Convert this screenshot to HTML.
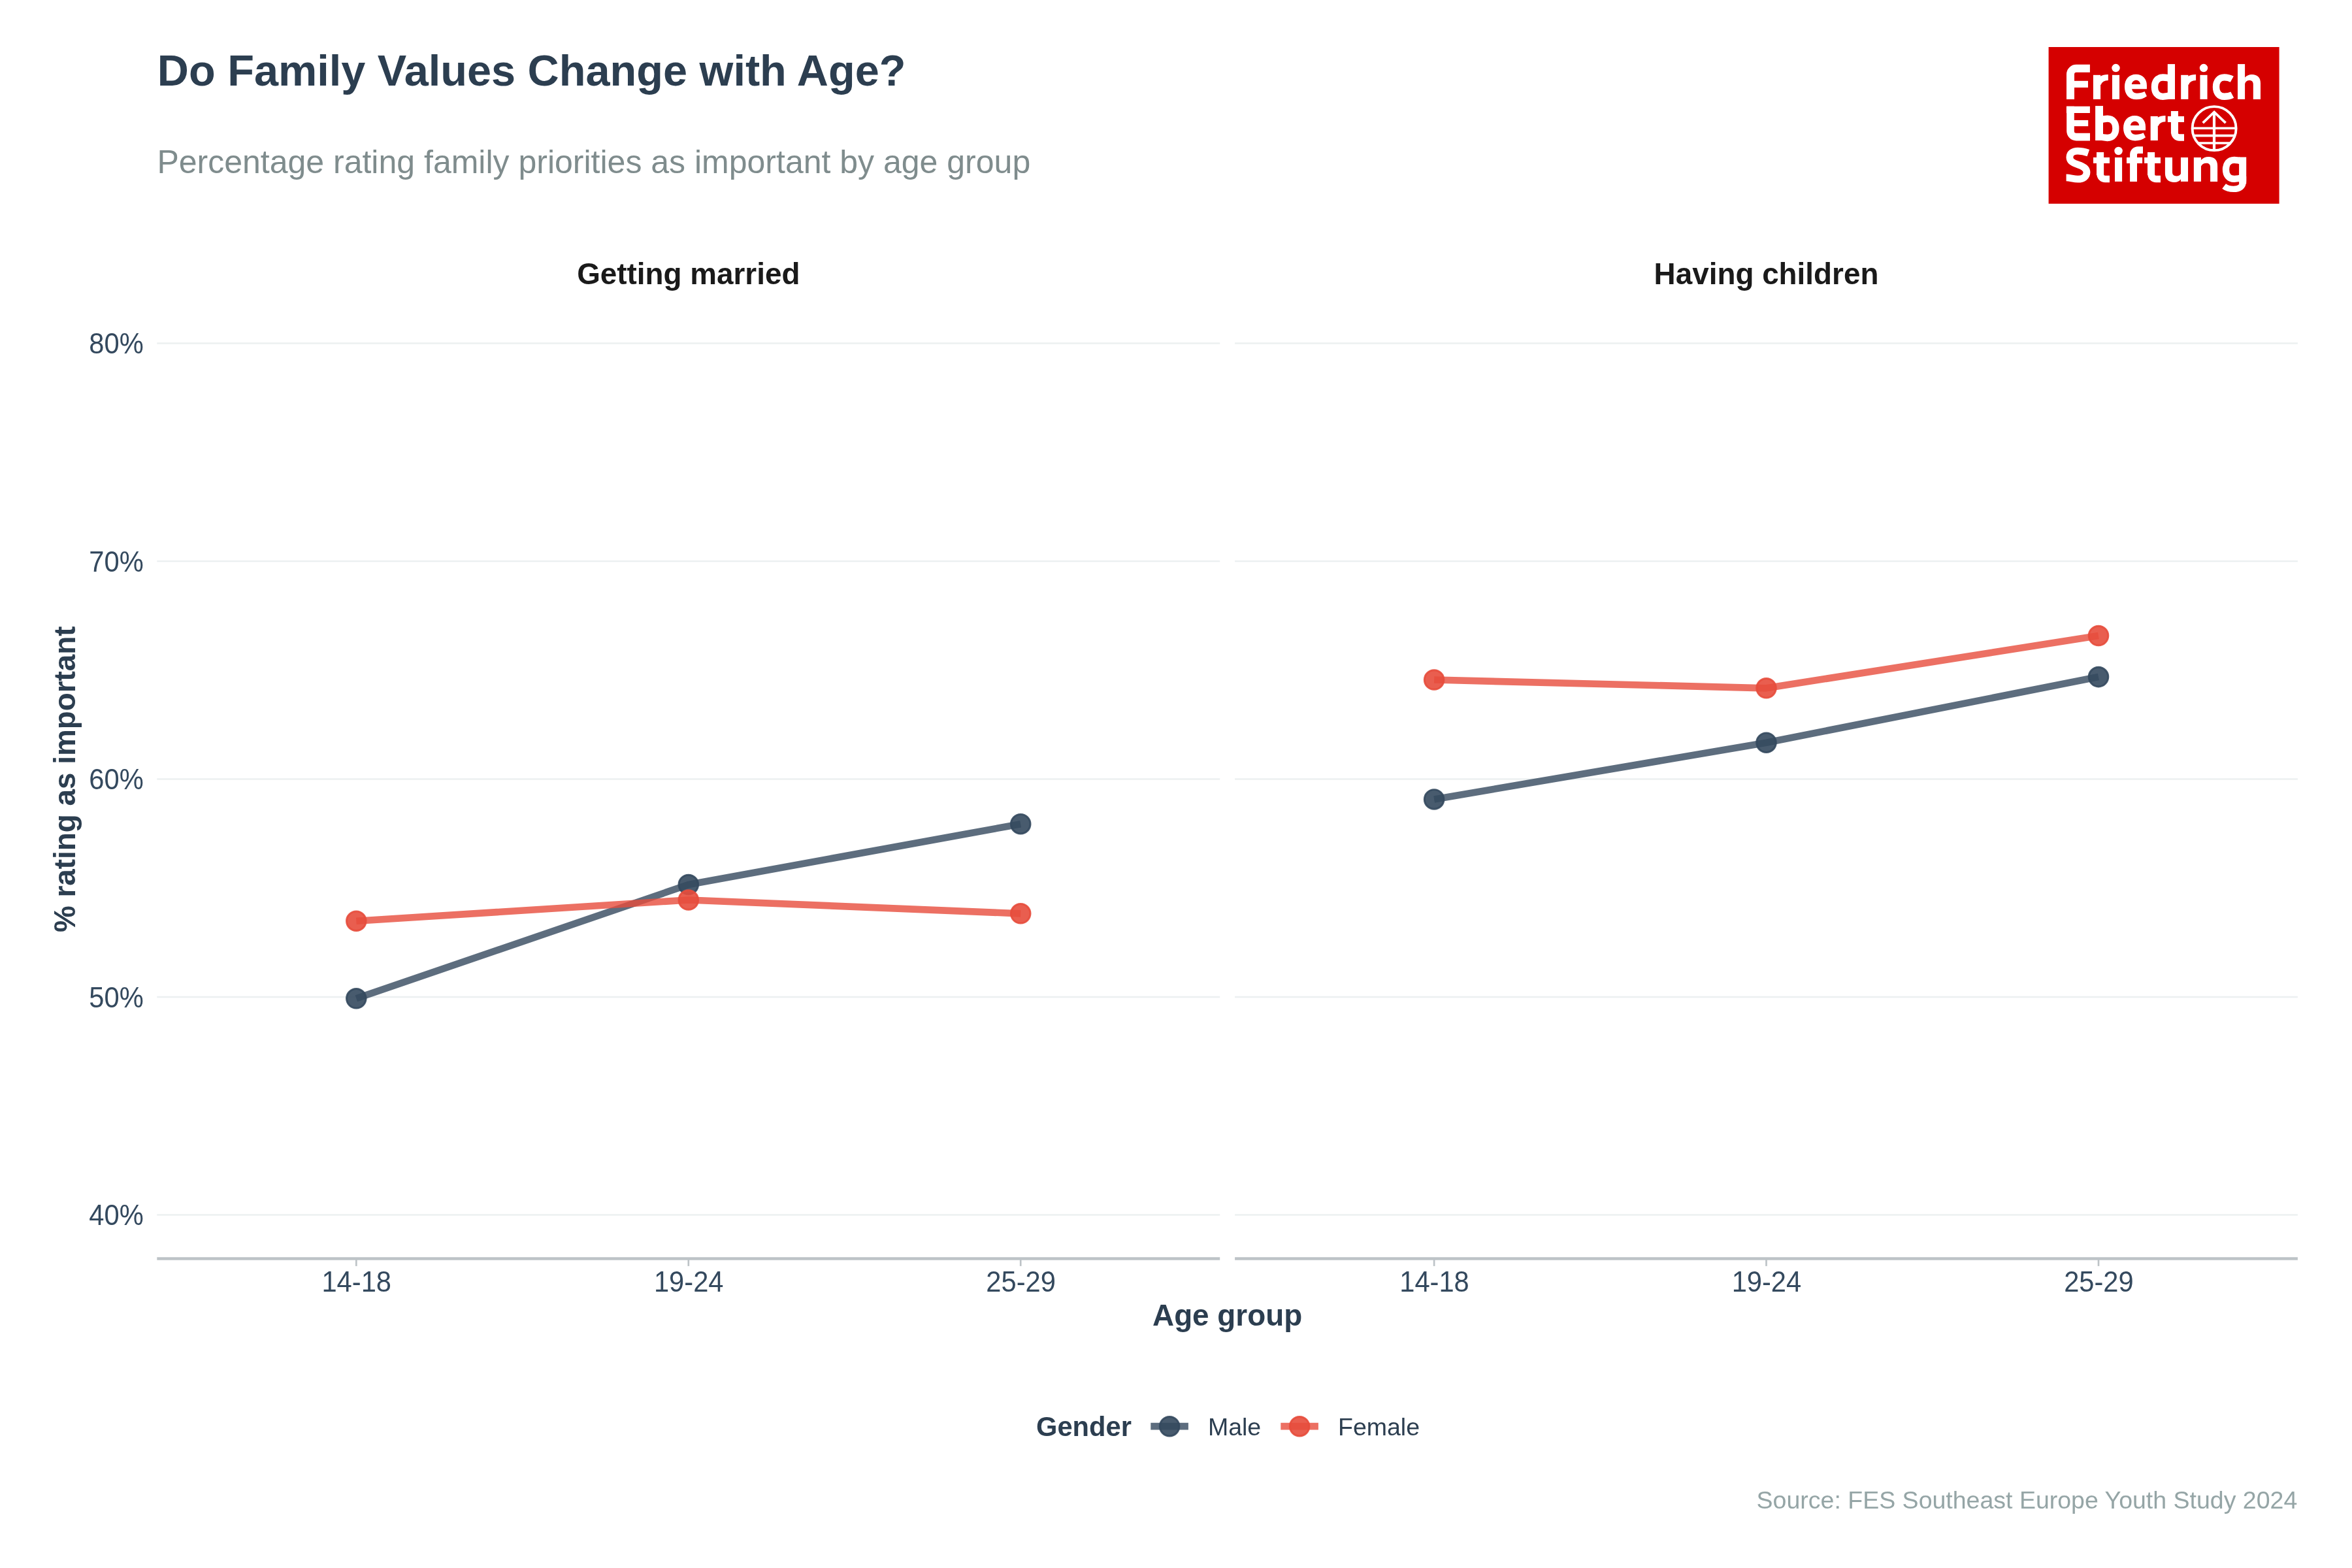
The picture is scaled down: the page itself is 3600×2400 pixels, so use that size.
<!DOCTYPE html>
<html><head><meta charset="utf-8"><title>Do Family Values Change with Age?</title>
<style>
html,body{margin:0;padding:0;background:#fff;}
body{width:3600px;height:2400px;overflow:hidden;}
svg{display:block;position:absolute;left:0;top:0;will-change:transform;}
text{font-family:"Liberation Sans",sans-serif;}
.b{font-weight:700;}
.ax{font-size:41.67px;fill:#34495e;}
</style></head><body>
<svg width="3600" height="2400" viewBox="0 0 3600 2400">
<rect width="3600" height="2400" fill="#ffffff"/>
<text x="240.8" y="130.7" class="b" font-size="66.67" fill="#2c3e50">Do Family Values Change with Age?</text>
<text x="240.4" y="264.8" font-size="50" fill="#7f8c8d">Percentage rating family priorities as important by age group</text>
<text x="1053.8" y="434.8" class="b" font-size="45.83" fill="#1a1a1a" text-anchor="middle">Getting married</text>
<text x="2703.5" y="434.8" class="b" font-size="45.83" fill="#1a1a1a" text-anchor="middle">Having children</text>
<line x1="240.3" x2="1867.2" y1="525.5" y2="525.5" stroke="#ecf0f1" stroke-width="2.67"/>
<line x1="1890.1" x2="3516.9" y1="525.5" y2="525.5" stroke="#ecf0f1" stroke-width="2.67"/>
<text transform="translate(219.7 541.2) scale(1 1.06)" class="ax" text-anchor="end">80%</text>
<line x1="240.3" x2="1867.2" y1="859.0" y2="859.0" stroke="#ecf0f1" stroke-width="2.67"/>
<line x1="1890.1" x2="3516.9" y1="859.0" y2="859.0" stroke="#ecf0f1" stroke-width="2.67"/>
<text transform="translate(219.7 874.7) scale(1 1.06)" class="ax" text-anchor="end">70%</text>
<line x1="240.3" x2="1867.2" y1="1192.5" y2="1192.5" stroke="#ecf0f1" stroke-width="2.67"/>
<line x1="1890.1" x2="3516.9" y1="1192.5" y2="1192.5" stroke="#ecf0f1" stroke-width="2.67"/>
<text transform="translate(219.7 1208.2) scale(1 1.06)" class="ax" text-anchor="end">60%</text>
<line x1="240.3" x2="1867.2" y1="1526.0" y2="1526.0" stroke="#ecf0f1" stroke-width="2.67"/>
<line x1="1890.1" x2="3516.9" y1="1526.0" y2="1526.0" stroke="#ecf0f1" stroke-width="2.67"/>
<text transform="translate(219.7 1541.7) scale(1 1.06)" class="ax" text-anchor="end">50%</text>
<line x1="240.3" x2="1867.2" y1="1859.5" y2="1859.5" stroke="#ecf0f1" stroke-width="2.67"/>
<line x1="1890.1" x2="3516.9" y1="1859.5" y2="1859.5" stroke="#ecf0f1" stroke-width="2.67"/>
<text transform="translate(219.7 1875.2) scale(1 1.06)" class="ax" text-anchor="end">40%</text>
<polyline points="545.3,1528.3 1053.8,1354.0 1562.2,1261.2" fill="none" stroke="#34495e" stroke-opacity="0.8" stroke-width="10.67" stroke-linejoin="round" stroke-linecap="butt"/>
<polyline points="545.3,1409.7 1053.8,1377.5 1562.2,1398.3" fill="none" stroke="#e74c3c" stroke-opacity="0.8" stroke-width="10.67" stroke-linejoin="round" stroke-linecap="butt"/>
<polyline points="2195.1,1223.4 2703.5,1136.7 3212.0,1036.1" fill="none" stroke="#34495e" stroke-opacity="0.8" stroke-width="10.67" stroke-linejoin="round" stroke-linecap="butt"/>
<polyline points="2195.1,1040.5 2703.5,1053.3 3212.0,973.0" fill="none" stroke="#e74c3c" stroke-opacity="0.8" stroke-width="10.67" stroke-linejoin="round" stroke-linecap="butt"/>
<circle cx="545.3" cy="1528.3" r="14.8" fill="#34495e" fill-opacity="0.9" stroke="#34495e" stroke-opacity="0.9" stroke-width="2.95"/><circle cx="1053.8" cy="1354.0" r="14.8" fill="#34495e" fill-opacity="0.9" stroke="#34495e" stroke-opacity="0.9" stroke-width="2.95"/><circle cx="1562.2" cy="1261.2" r="14.8" fill="#34495e" fill-opacity="0.9" stroke="#34495e" stroke-opacity="0.9" stroke-width="2.95"/>
<circle cx="545.3" cy="1409.7" r="14.8" fill="#e74c3c" fill-opacity="0.9" stroke="#e74c3c" stroke-opacity="0.9" stroke-width="2.95"/><circle cx="1053.8" cy="1377.5" r="14.8" fill="#e74c3c" fill-opacity="0.9" stroke="#e74c3c" stroke-opacity="0.9" stroke-width="2.95"/><circle cx="1562.2" cy="1398.3" r="14.8" fill="#e74c3c" fill-opacity="0.9" stroke="#e74c3c" stroke-opacity="0.9" stroke-width="2.95"/>
<circle cx="2195.1" cy="1223.4" r="14.8" fill="#34495e" fill-opacity="0.9" stroke="#34495e" stroke-opacity="0.9" stroke-width="2.95"/><circle cx="2703.5" cy="1136.7" r="14.8" fill="#34495e" fill-opacity="0.9" stroke="#34495e" stroke-opacity="0.9" stroke-width="2.95"/><circle cx="3212.0" cy="1036.1" r="14.8" fill="#34495e" fill-opacity="0.9" stroke="#34495e" stroke-opacity="0.9" stroke-width="2.95"/>
<circle cx="2195.1" cy="1040.5" r="14.8" fill="#e74c3c" fill-opacity="0.9" stroke="#e74c3c" stroke-opacity="0.9" stroke-width="2.95"/><circle cx="2703.5" cy="1053.3" r="14.8" fill="#e74c3c" fill-opacity="0.9" stroke="#e74c3c" stroke-opacity="0.9" stroke-width="2.95"/><circle cx="3212.0" cy="973.0" r="14.8" fill="#e74c3c" fill-opacity="0.9" stroke="#e74c3c" stroke-opacity="0.9" stroke-width="2.95"/>
<line x1="545.3" x2="545.3" y1="1926.5" y2="1937.9" stroke="#bdc3c7" stroke-width="2.67"/>
<text transform="translate(545.7 1977.3) scale(1 1.06)" class="ax" text-anchor="middle">14-18</text>
<line x1="1053.8" x2="1053.8" y1="1926.5" y2="1937.9" stroke="#bdc3c7" stroke-width="2.67"/>
<text transform="translate(1054.2 1977.3) scale(1 1.06)" class="ax" text-anchor="middle">19-24</text>
<line x1="1562.2" x2="1562.2" y1="1926.5" y2="1937.9" stroke="#bdc3c7" stroke-width="2.67"/>
<text transform="translate(1562.6 1977.3) scale(1 1.06)" class="ax" text-anchor="middle">25-29</text>
<line x1="240.3" x2="1867.2" y1="1926.5" y2="1926.5" stroke="#bdc3c7" stroke-width="4.44"/>
<line x1="2195.1" x2="2195.1" y1="1926.5" y2="1937.9" stroke="#bdc3c7" stroke-width="2.67"/>
<text transform="translate(2195.5 1977.3) scale(1 1.06)" class="ax" text-anchor="middle">14-18</text>
<line x1="2703.5" x2="2703.5" y1="1926.5" y2="1937.9" stroke="#bdc3c7" stroke-width="2.67"/>
<text transform="translate(2703.9 1977.3) scale(1 1.06)" class="ax" text-anchor="middle">19-24</text>
<line x1="3212.0" x2="3212.0" y1="1926.5" y2="1937.9" stroke="#bdc3c7" stroke-width="2.67"/>
<text transform="translate(3212.4 1977.3) scale(1 1.06)" class="ax" text-anchor="middle">25-29</text>
<line x1="1890.1" x2="3516.9" y1="1926.5" y2="1926.5" stroke="#bdc3c7" stroke-width="4.44"/>
<text x="1878.6" y="2028.7" class="b" font-size="45.83" fill="#2c3e50" text-anchor="middle">Age group</text>
<text transform="translate(115.0 1192.7) rotate(-90)" class="b" font-size="45.83" fill="#2c3e50" text-anchor="middle">% rating as important</text>
<text x="1586" y="2198" class="b" font-size="41.67" fill="#2c3e50">Gender</text>
<line x1="1761.3" x2="1818.8999999999999" y1="2183.2" y2="2183.2" stroke="#34495e" stroke-opacity="0.8" stroke-width="10.67"/>
<circle cx="1790.1" cy="2183.2" r="14.8" fill="#34495e" fill-opacity="0.9" stroke="#34495e" stroke-opacity="0.9" stroke-width="2.95"/>
<text x="1848.9" y="2197.2" font-size="37.5" fill="#2c3e50">Male</text>
<line x1="1960.3" x2="2017.8999999999999" y1="2183.2" y2="2183.2" stroke="#e74c3c" stroke-opacity="0.8" stroke-width="10.67"/>
<circle cx="1989.1" cy="2183.2" r="14.8" fill="#e74c3c" fill-opacity="0.9" stroke="#e74c3c" stroke-opacity="0.9" stroke-width="2.95"/>
<text x="2048.0" y="2197.2" font-size="37.5" fill="#2c3e50">Female</text>
<text x="3516.3" y="2308.8" font-size="37.5" fill="#95a5a6" text-anchor="end">Source: FES Southeast Europe Youth Study 2024</text>
<rect x="3135.6" y="72" width="353" height="239.8" fill="#d50000"/>
<g fill="none" stroke="#ffffff" stroke-linecap="butt" stroke-linejoin="round">
<path d="M3169,151.9V113.75A9,9 0 0 1 3178,104.75H3198.9" stroke-width="12" />
<path d="M3169,128.9H3196" stroke-width="10.2" />
<path d="M3209.5,114.8V151.9" stroke-width="11.2"/>
<path d="M3211.5,128.3C3213.5,122.1 3218.5,118.5 3226.8,118.5" stroke-width="9.2" />
<path d="M3238.5,114.8V151.9" stroke-width="11.1"/>
<circle cx="3238.5" cy="104.1" r="6.25" fill="#fff" stroke="none"/>
<path d="M3285.95,147.14C3281.50,150.60 3276.00,152.30 3269.97,152.30C3258.60,152.30 3251.94,144.20 3251.94,132.90C3251.94,121.60 3258.60,113.80 3269.30,113.80C3279.60,113.80 3285.95,120.60 3285.95,130.80V136.30H3263.16C3263.90,140.60 3266.60,142.70 3270.70,142.70C3274.90,142.70 3279.00,141.70 3282.55,140.00ZM3262.82,128.91C3263.50,125.00 3266.00,122.65 3269.63,122.65C3273.20,122.65 3275.60,125.00 3276.09,128.91Z" fill="#fff" stroke="none" fill-rule="evenodd"/>
<path d="M3323.4,98.1V151.9" stroke-width="11.2"/>
<path d="M3324,121.4C3319.5,119.3 3315,118.5 3310.5,118.5C3302,118.5 3297.9,125 3297.9,133.2C3297.9,141.6 3302,147.8 3310.5,147.8C3315,147.8 3319.5,147 3324,145" stroke-width="10.3" />
<path d="M3343.8,114.8V151.9" stroke-width="11.2"/>
<path d="M3345.8,128.3C3347.8,122.1 3352.8,118.5 3361.1000000000004,118.5" stroke-width="9.2" />
<path d="M3373.0,114.8V151.9" stroke-width="11.1"/>
<circle cx="3373.0" cy="104.1" r="6.25" fill="#fff" stroke="none"/>
<path d="M3416.3,121.3C3412.5,119.2 3408.5,118.4 3404.6,118.4C3396.2,118.4 3392,124.8 3392,133.1C3392,141.6 3396.2,147.8 3404.6,147.8C3408.8,147.8 3413.2,147 3416.8,145.1" stroke-width="10.4" />
<path d="M3430.55,98.1V151.9" stroke-width="11.1"/>
<path d="M3436.1,118.6C3439,115.6 3442.6,114.1 3446.8,114.1C3455.2,114.1 3460,119 3460,127.2V151.9H3448.8V129C3448.8,125 3446.6,123 3442.9,123C3439.6,123 3437.1,124.9 3436.1,128.2Z" fill="#fff" stroke="none" fill-rule="evenodd"/>
<path d="M3162.9,167.9H3198.9" stroke-width="10.2" />
<path d="M3169,162.8V200.6A9,9 0 0 0 3178,209.6H3199" stroke-width="11.6" />
<path d="M3169,188.55H3196.2" stroke-width="9.3" />
<path d="M3213.05,162.1V215.0" stroke-width="11.9"/>
<path d="M3212.5,184.6C3217,182.5 3221,181.6 3225.6,181.6C3234.2,181.6 3238.4,188 3238.4,196.4C3238.4,204.8 3234.2,211 3225.6,211C3221,211 3217,210.2 3212.5,208.2" stroke-width="10.3" />
<path d="M3284.05,210.34C3279.60,213.80 3274.10,215.50 3268.07,215.50C3256.70,215.50 3250.04,207.40 3250.04,196.10C3250.04,184.80 3256.70,177.00 3267.40,177.00C3277.70,177.00 3284.05,183.80 3284.05,194.00V199.50H3261.26C3262.00,203.80 3264.70,205.90 3268.80,205.90C3273.00,205.90 3277.10,204.90 3280.65,203.20ZM3260.92,192.11C3261.60,188.20 3264.10,185.85 3267.73,185.85C3271.30,185.85 3273.70,188.20 3274.19,192.11Z" fill="#fff" stroke="none" fill-rule="evenodd"/>
<path d="M3297.25,177.9V215.0" stroke-width="11.2"/>
<path d="M3299.25,191.4C3301.25,185.20000000000002 3306.25,181.6 3314.55,181.6" stroke-width="9.2" />
<path d="M3328.45,170.05V203.0A7.5,7.5 0 0 0 3335.95,210.5H3343.0" stroke-width="10.5" />
<path d="M3328.45,170.05V204.5" stroke-width="11.1"/>
<path d="M3317.9,182.45H3343.0" stroke-width="9.0" />
<g stroke-width="3.8">
<circle cx="3389.1" cy="196.6" r="33.5" stroke-width="3.9"/>
<path d="M3389,171V230" stroke-width="4.2"/>
<path d="M3371.7,188.1L3389.1,171.5L3406.6,188.1" stroke-linejoin="miter"/>
<path d="M3355.6,196.3H3422.6" stroke-width="3.6"/>
<path d="M3357.5,207.6H3420.7" stroke-width="3.6"/>
<path d="M3364.2,219.0H3414.0" stroke-width="3.6"/>
</g>
<path d="M3196.4,234.2C3190.6,232.2 3185.6,231.2 3180.3,231.2C3172.3,231.2 3167.9,235 3167.9,240.7C3167.9,247.0 3173.2,249.5 3181,252.1C3189.2,254.9 3194,257.8 3194,263.8C3194,270.2 3188.8,274.2 3180.4,274.2C3173.8,274.2 3168.5,271.8 3162.6,271.8" stroke-width="10.8" />
<path d="M3214.6,233.0V266.5A7.5,7.5 0 0 0 3222.1,274.0H3229.0" stroke-width="10.5" />
<path d="M3214.6,233.0V268.0" stroke-width="11.1"/>
<path d="M3204.0,245.45H3229.0" stroke-width="9.0" />
<path d="M3242.55,241.0V277.9" stroke-width="11.1"/>
<circle cx="3242.55" cy="231.0" r="6.25" fill="#fff" stroke="none"/>
<path d="M3265.55,277.9V236.6A7,7 0 0 1 3272.55,229.6H3280" stroke-width="10.9" />
<path d="M3255,245.5H3279.1" stroke-width="9.0" />
<path d="M3292.6,233.0V266.5A7.5,7.5 0 0 0 3300.1,274.0H3307.0" stroke-width="10.5" />
<path d="M3292.6,233.0V268.0" stroke-width="11.1"/>
<path d="M3282.1,245.45H3307.0" stroke-width="9.0" />
<path d="M3313.9,241.0V265.6C3313.9,274.3 3319.4,279.1 3327.9,279.1C3332.6,279.1 3336,277.3 3338.2,274V265.4C3337,268 3334.6,269.4 3331.4,269.4C3327,269.4 3325,267.3 3325,263.3V241.0Z" fill="#fff" stroke="none" fill-rule="evenodd"/>
<path d="M3343.5,241.0V277.9" stroke-width="11.1"/>
<path d="M3363.4,241.0V277.9" stroke-width="11.1"/>
<path d="M3368.9,245.1C3371.6,241.8 3375.6,240 3380.6,240C3389.2,240 3394.1,245 3394.1,253.6V277.9H3383.1V255.6C3383.1,251.6 3380.8,249.7 3376.9,249.7C3373.1,249.7 3370.1,251.6 3368.9,254.8Z" fill="#fff" stroke="none" fill-rule="evenodd"/>
<path d="M3433,247.7C3428.5,245.7 3424.5,244.9 3419.8,244.9C3411.2,244.9 3407,251.2 3407,259.4C3407,267.6 3411.2,273.9 3419.8,273.9C3424.5,273.9 3428.5,273.1 3433,271.1" stroke-width="10.3" />
<path d="M3432.65,240.5V281" stroke-width="11.1"/>
<path d="M3433.5,270V277C3433.5,285.6 3427.6,289.4 3418.6,289.4C3412.6,289.4 3407.9,287.8 3404.1,284.9" stroke-width="9.4" />
</g>
</svg></body></html>
